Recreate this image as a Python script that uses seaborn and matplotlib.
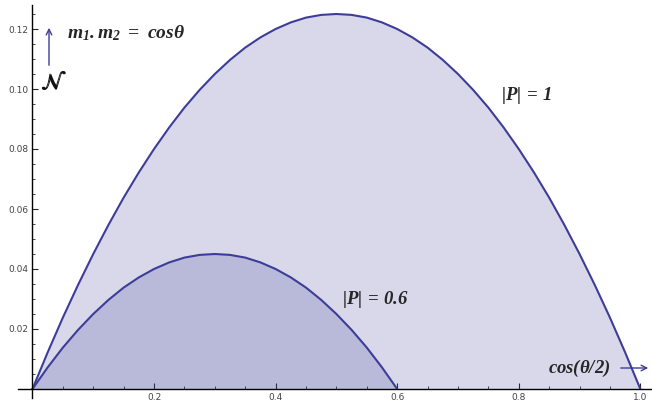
import matplotlib
matplotlib.use("Agg")
import matplotlib.pyplot as plt
from matplotlib.ticker import MultipleLocator
import seaborn as sns
import pandas as pd

# curve for |P| = 1
x_p1 = [0.0, 0.025, 0.05, 0.075, 0.1, 0.125, 0.15, 0.175, 0.2, 0.225, 0.25,
        0.275, 0.3, 0.325, 0.35, 0.375, 0.4, 0.425, 0.45, 0.475, 0.5,
        0.525, 0.55, 0.575, 0.6, 0.625, 0.65, 0.675, 0.7, 0.725, 0.75,
        0.775, 0.8, 0.825, 0.85, 0.875, 0.9, 0.925, 0.95, 0.975, 1.0]
y_p1 = [0.0, 0.0122, 0.0238, 0.0347, 0.045, 0.0547, 0.0638, 0.0722, 0.08, 0.0872, 0.0938,
        0.0997, 0.105, 0.1097, 0.1138, 0.1172, 0.12, 0.1222, 0.1238, 0.1247, 0.125,
        0.1247, 0.1238, 0.1222, 0.12, 0.1172, 0.1138, 0.1097, 0.105, 0.0997, 0.0938,
        0.0872, 0.08, 0.0722, 0.0638, 0.0547, 0.045, 0.0347, 0.0238, 0.0122, 0.0]

# curve for |P| = 0.6
x_p06 = [0.0, 0.025, 0.05, 0.075, 0.1, 0.125, 0.15, 0.175, 0.2, 0.225, 0.25, 0.275, 0.3,
         0.325, 0.35, 0.375, 0.4, 0.425, 0.45, 0.475, 0.5, 0.525, 0.55, 0.575, 0.6]
y_p06 = [0.0, 0.0072, 0.0138, 0.0197, 0.025, 0.0297, 0.0338, 0.0372, 0.04, 0.0422, 0.0438, 0.0447, 0.045,
         0.0447, 0.0438, 0.0422, 0.04, 0.0372, 0.0338, 0.0297, 0.025, 0.0197, 0.0138, 0.0072, 0.0]

x_ticks = [0.2, 0.4, 0.6, 0.8, 1.0]
y_ticks = [0.02, 0.04, 0.06, 0.08, 0.10, 0.12]

line_col = (0.24, 0.24, 0.6)

sns.set_style("white")
plt.rcParams["mathtext.fontset"] = "custom"
plt.rcParams["mathtext.it"] = "Liberation Serif:italic:bold"
plt.rcParams["mathtext.rm"] = "Liberation Serif:italic:bold"
plt.rcParams["mathtext.bf"] = "Liberation Serif:italic:bold"

W, H = 652, 409
fig = plt.figure(figsize=(W / 100, H / 100), dpi=100)
ax = fig.add_axes([18 / W, 11 / H, (W - 18) / W, (398 - 5) / H])

df1 = pd.DataFrame({"x": x_p1, "y": y_p1})
df2 = pd.DataFrame({"x": x_p06, "y": y_p06})

ax.fill_between(df1["x"], 0, df1["y"], color=line_col, alpha=0.2, lw=0)
ax.fill_between(df2["x"], 0, df2["y"], color=line_col, alpha=0.2, lw=0)
sns.lineplot(data=df1, x="x", y="y", ax=ax, color=line_col, lw=1.5, sort=False)
sns.lineplot(data=df2, x="x", y="y", ax=ax, color=line_col, lw=1.5, sort=False)

ax.set_xlim(-0.0238, 1.0192)
ax.set_ylim(-0.003, 0.128)
ax.set_xlabel("")
ax.set_ylabel("")

# Mathematica style axes through the origin
ax.spines["top"].set_visible(False)
ax.spines["right"].set_visible(False)
ax.spines["left"].set_position(("data", 0))
ax.spines["bottom"].set_position(("data", 0))
for s in ["left", "bottom"]:
    ax.spines[s].set_linewidth(1.0)
    ax.spines[s].set_color("black")

ax.set_xticks(x_ticks)
ax.set_xticklabels(["0.2", "0.4", "0.6", "0.8", "1.0"])
ax.set_yticks(y_ticks)
ax.set_yticklabels(["0.02", "0.04", "0.06", "0.08", "0.10", "0.12"])
ax.xaxis.set_minor_locator(MultipleLocator(0.05))
ax.yaxis.set_minor_locator(MultipleLocator(0.005))
ax.tick_params(which="major", direction="in", length=4, width=0.8, labelsize=6.5,
               labelcolor="#444444", pad=3)
ax.tick_params(which="minor", direction="in", length=2.5, width=0.6)
ax.tick_params(axis="both", which="both", bottom=True, left=True)


def fpos(px, py):
    return (px / W, 1 - py / H)


fig.text(*fpos(67, 33), r"$m_1.m_2\ =\ cos\theta$", fontsize=14, va="center", ha="left")
# calligraphic N, drawn twice with a small shift to look bold
for dx in (0, 0.5):
    fig.text(*fpos(53 + dx, 82), r"$\mathcal{N}$", fontsize=16, va="center", ha="center",
             math_fontfamily="stix", color="#111111")
fig.text(*fpos(501, 95), r"$|P|\,=\,1$", fontsize=13.5, va="center", ha="left")
fig.text(*fpos(342, 299), r"$|P|\,=\,0.6$", fontsize=13.5, va="center", ha="left")
fig.text(*fpos(548, 368), r"$cos(\theta/2)$", fontsize=13.5, va="center", ha="left")

fig.add_artist(plt.Annotation("", xy=fpos(49, 25), xytext=fpos(49, 68),
                              xycoords="figure fraction", textcoords="figure fraction",
                              arrowprops=dict(arrowstyle="->", color=line_col, lw=1.0)))
fig.add_artist(plt.Annotation("", xy=fpos(651, 368), xytext=fpos(618, 368),
                              xycoords="figure fraction", textcoords="figure fraction",
                              arrowprops=dict(arrowstyle="->", color=line_col, lw=1.0)))

fig.savefig("out.png", dpi=100)
